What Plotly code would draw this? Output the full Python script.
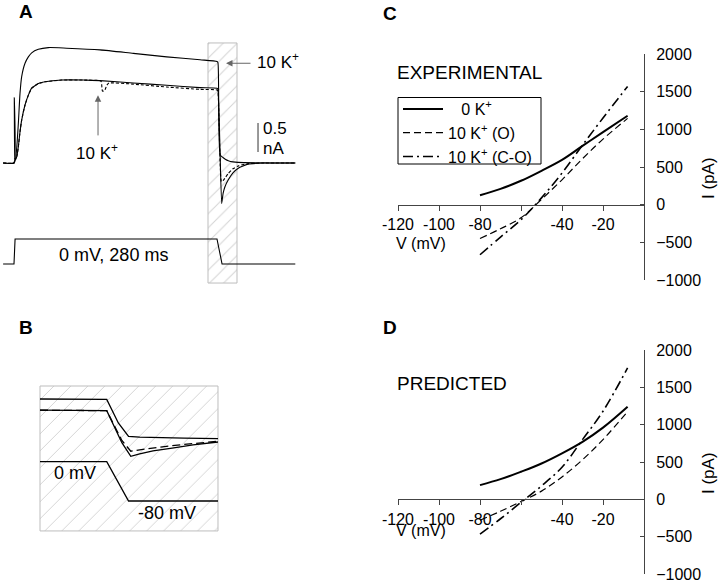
import plotly.graph_objects as go

W, H = 720, 582
FONT = "Liberation Sans, Arial, sans-serif"

# ---------------- Panel A : current traces (time ms, current nA) ----------------
A_TOP_T = [-15, 0, 2.0, 4, 6, 8.3, 10.6, 15.2, 19.8, 24.4, 33.6, 47.4, 72.6, 118.6, 164.6,
           210.6, 256.6, 280, 281.3, 284.5, 288.7, 292, 295.6, 302, 309, 388]
A_TOP_I = [0, 0, 0.06, 0.3, 0.68, 1.20, 1.49, 1.72, 1.83, 1.90, 1.96, 1.99, 1.98, 1.95, 1.89,
           1.83, 1.78, 1.75, 1.73, 0.14, 0.09, 0.06, 0.04, 0.02, 0.01, 0]

A_LOW_T = [-15, 0, 0.4, 1.2, 2.0, 4, 6, 8.3, 10.6, 15.2, 19.8, 24.4, 33.6, 42.8, 65.7, 95.6,
           118.6, 164.6, 210.6, 256.6, 280, 281.3, 286.4, 288.5, 291, 295.6, 302, 309.4, 323, 345, 388]
A_LOW_I = [0, 0, 1.13, 0.08, 0.06, 0.12, 0.28, 0.54, 0.74, 1.0, 1.17, 1.29, 1.37, 1.40, 1.43, 1.43,
           1.42, 1.38, 1.34, 1.30, 1.29, 1.27, -0.70, -0.52, -0.41, -0.29, -0.17, -0.09, -0.02, 0, 0]

A_DASH_T = [-15, 0, 1.2, 2.0, 4, 6, 8.3, 10.6, 15.2, 19.8, 24.4, 33.6, 42.8, 65.7, 95.6, 118.6,
            120.5, 122, 125, 128, 131, 164.6, 210.6, 256.6, 280, 281.3, 286, 288.7, 291, 295.6,
            302, 309.4, 323, 345, 388]
A_DASH_I = [0, 0, 0.08, 0.06, 0.12, 0.28, 0.54, 0.74, 1.0, 1.17, 1.29, 1.37, 1.40, 1.43, 1.43, 1.42,
            1.40, 1.24, 1.25, 1.34, 1.38, 1.36, 1.31, 1.27, 1.26, 1.24, -0.32, -0.30, -0.26, -0.18,
            -0.10, -0.05, -0.01, 0, 0]

# voltage protocol (ms, mV)
A_V_T = [-15, 0, 1.5, 280, 287, 388]
A_V_MV = [-80, -80, 0, 0, -80, -80]

BOX_T = [267.6, 307.6]          # hatched window (ms)
SCALE_NA = 0.5                  # scale bar size (nA)

# ---------------- Panel B : expanded window ----------------
B_TOP_T = [267.6, 282.6, 285.2, 287.5, 290, 295, 300, 307.6]
B_TOP_I = [1.75, 1.73, 0.68, 0.08, 0.05, 0.02, 0.0, -0.02]
B_DASH_T = [267.6, 282.6, 286, 288, 290, 293, 297.3, 302, 307.6]
B_DASH_I = [1.25, 1.23, -0.1, -0.58, -0.52, -0.43, -0.33, -0.24, -0.14]
B_LOW_T = [267.6, 282.6, 286, 288, 290, 293, 297.3, 302, 307.6]
B_LOW_I = [1.25, 1.23, -0.2, -0.81, -0.70, -0.57, -0.44, -0.30, -0.17]
B_V_T = [267.6, 282.6, 287.5, 307.6]
B_V_MV = [0, 0, -80, -80]

# ---------------- Panels C / D : I-V curves ----------------
V_MV = [-80, -70, -60, -50, -40, -30, -20, -8]
C_0K = [125, 210, 317, 450, 594, 780, 964, 1180]
C_10K_O = [-450, -320, -175, 70, 330, 610, 870, 1145]
C_10K_CO = [-665, -430, -200, 90, 420, 790, 1150, 1570]
D_0K = [190, 270, 370, 480, 616, 770, 960, 1240]
D_10K_O = [-280, -160, -30, 110, 300, 530, 800, 1175]
D_10K_CO = [-465, -260, -40, 180, 430, 800, 1180, 1760]

IV_XTICKS = [-120, -100, -80, -60, -40, -20]
IV_XTICKTEXT = ["-120", "-100", "-80", "", "-40", "-20"]
IV_YTICKS = [-1000, -500, 0, 500, 1000, 1500, 2000]
LEGEND_NAMES = ["\u00a0\u00a0 0 K<sup>+</sup>", "10 K<sup>+</sup> (O)", "10 K<sup>+</sup> (C-O)"]


def fx(px):
    return px / W


def fy(py):
    return 1 - py / H


fig = go.Figure()

# ---- Panel A ----
box_y = [-2.07, 2.07]
fig.add_trace(go.Scatter(
    x=[BOX_T[0], BOX_T[1], BOX_T[1], BOX_T[0], BOX_T[0]],
    y=[box_y[0], box_y[0], box_y[1], box_y[1], box_y[0]],
    fill="toself", fillcolor="white", mode="lines",
    line=dict(color="#bdbdbd", width=1),
    fillpattern=dict(shape="/", size=10, solidity=0.1, fgcolor="#a8a8a8", bgcolor="white"),
    xaxis="x", yaxis="y", showlegend=False, hoverinfo="skip"))
fig.add_trace(go.Scatter(x=A_TOP_T, y=A_TOP_I, mode="lines", line=dict(color="black", width=1.1, shape="spline", smoothing=0.6),
                         xaxis="x", yaxis="y", showlegend=False))
fig.add_trace(go.Scatter(x=A_LOW_T, y=A_LOW_I, mode="lines", line=dict(color="black", width=1.1, shape="spline", smoothing=0.4),
                         xaxis="x", yaxis="y", showlegend=False))
fig.add_trace(go.Scatter(x=A_DASH_T, y=A_DASH_I, mode="lines", line=dict(color="black", width=1.1, dash="3px,2px", shape="spline", smoothing=0.4),
                         xaxis="x", yaxis="y", showlegend=False))
fig.add_trace(go.Scatter(x=A_V_T, y=A_V_MV, mode="lines", line=dict(color="black", width=1.1),
                         xaxis="x", yaxis="y2", showlegend=False))
# scale bar
fig.add_trace(go.Scatter(x=[336.6, 336.6], y=[0.19, 0.19 + SCALE_NA], mode="lines",
                         line=dict(color="#777777", width=1.5), xaxis="x", yaxis="y", showlegend=False))

# ---- Panel B ----
bb_y = [-4.14, 2.33]
fig.add_trace(go.Scatter(
    x=[BOX_T[0], BOX_T[1], BOX_T[1], BOX_T[0], BOX_T[0]],
    y=[bb_y[0], bb_y[0], bb_y[1], bb_y[1], bb_y[0]],
    fill="toself", fillcolor="white", mode="lines",
    line=dict(color="#bdbdbd", width=1),
    fillpattern=dict(shape="/", size=12, solidity=0.08, fgcolor="#a8a8a8", bgcolor="white"),
    xaxis="x2", yaxis="y3", showlegend=False, hoverinfo="skip"))
fig.add_trace(go.Scatter(x=B_TOP_T, y=B_TOP_I, mode="lines", line=dict(color="black", width=1.3),
                         xaxis="x2", yaxis="y3", showlegend=False))
fig.add_trace(go.Scatter(x=B_LOW_T, y=B_LOW_I, mode="lines", line=dict(color="black", width=1.3),
                         xaxis="x2", yaxis="y3", showlegend=False))
fig.add_trace(go.Scatter(x=B_DASH_T, y=B_DASH_I, mode="lines", line=dict(color="black", width=1.3, dash="8px,4px"),
                         xaxis="x2", yaxis="y3", showlegend=False))
fig.add_trace(go.Scatter(x=B_V_T, y=B_V_MV, mode="lines", line=dict(color="black", width=1.3),
                         xaxis="x2", yaxis="y4", showlegend=False))

# ---- Panels C and D ----
styles = [dict(color="black", width=2), dict(color="black", width=1.2, dash="7px,4px"),
          dict(color="black", width=1.6, dash="10px,4px,2px,4px")]
for name, data, st in zip(LEGEND_NAMES, [C_0K, C_10K_O, C_10K_CO], styles):
    fig.add_trace(go.Scatter(x=V_MV, y=data, mode="lines", name=name, line=dict(**st, shape="spline"),
                             xaxis="x3", yaxis="y5", showlegend=True))
for data, st in zip([D_0K, D_10K_O, D_10K_CO], styles):
    fig.add_trace(go.Scatter(x=V_MV, y=data, mode="lines", line=dict(**st, shape="spline"),
                             xaxis="x4", yaxis="y6", showlegend=False))

hidden = dict(visible=False, showgrid=False, zeroline=False, fixedrange=True)

ax_common_x = dict(range=[-120, 0], tickvals=IV_XTICKS, ticktext=IV_XTICKTEXT, ticks="outside",
                   ticklen=5, tickcolor="#444", showline=True, linecolor="#444", linewidth=1,
                   showgrid=False, zeroline=False, tickfont=dict(size=16, color="black", family=FONT),
                   domain=[fx(398), fx(644)], anchor="free", ticklabeloverflow="allow")
ax_common_y = dict(range=[-1000, 2000], tickvals=IV_YTICKS, side="right", ticks="inside", ticklen=4,
                   tickcolor="#444", showline=True, linecolor="#444", linewidth=1, showgrid=False,
                   zeroline=False, tickfont=dict(size=16, color="black", family=FONT), ticklabelstandoff=8,
                   ticklabeloverflow="allow")

fig.update_layout(
    width=W, height=H, margin=dict(l=0, r=0, t=0, b=0, pad=0, autoexpand=False),
    paper_bgcolor="white", plot_bgcolor="rgba(0,0,0,0)",
    font=dict(family=FONT, color="black", size=16),
    xaxis=dict(domain=[fx(0), fx(300)], range=[-19.3, 394.5], anchor="y", **hidden),
    yaxis=dict(domain=[fy(290), fy(40)], range=[-2.19, 2.121], anchor="x", **hidden),
    yaxis2=dict(overlaying="y", range=[-163.2, 636.8], anchor="x", **hidden),
    xaxis2=dict(domain=[fx(30), fx(230)], range=[265.35, 310.3], anchor="y3", **hidden),
    yaxis3=dict(domain=[fy(541), fy(376)], range=[-4.589, 2.777], anchor="x2", **hidden),
    yaxis4=dict(overlaying="y3", range=[-161.5, 174.5], anchor="x2", **hidden),
    xaxis3=dict(position=fy(204.7), **ax_common_x),
    yaxis5=dict(domain=[fy(280), fy(54)], anchor="x3", **ax_common_y),
    xaxis4=dict(position=fy(499.3), **ax_common_x),
    yaxis6=dict(domain=[fy(574), fy(350)], anchor="x4", **ax_common_y),
    legend=dict(x=fx(398), y=fy(92), xanchor="left", yanchor="top", bgcolor="rgba(0,0,0,0)",
                borderwidth=0, font=dict(size=16, family=FONT),
                tracegroupgap=0, itemwidth=40),
    showlegend=True,
    shapes=[dict(type="rect", xref="paper", yref="paper", x0=fx(398), x1=fx(541),
                 y0=fy(164), y1=fy(97.5), line=dict(color="black", width=1), layer="above")],
)

ann = []


def txt(text, x, y, size=17, xanchor="left", bold=False, angle=0):
    ann.append(dict(text=("<b>%s</b>" % text) if bold else text, x=fx(x), y=fy(y), xref="paper",
                    yref="paper", xanchor=xanchor, yanchor="middle", showarrow=False,
                    textangle=angle, font=dict(size=size, family=FONT, color="black")))


txt("A", 17, 11, 19, bold=True)
txt("B", 17, 327.5, 19, bold=True)
txt("C", 381, 13, 19, bold=True)
txt("D", 381, 327.5, 19, bold=True)

txt("10 K<sup>+</sup>", 97, 152, 17, xanchor="center")
txt("10 K<sup>+</sup>", 255, 61, 17)
txt("0.5", 261, 128, 17)
txt("nA", 261, 148, 17)
txt("0 mV, 280 ms", 113.5, 255, 18, xanchor="center")

txt("0 mV", 75, 473, 18, xanchor="center")
txt("-80 mV", 167, 513, 18, xanchor="center")

txt("EXPERIMENTAL", 395, 72, 19)
txt("PREDICTED", 395, 383, 19)
txt("V (mV)", 394, 243, 16)
txt("V (mV)", 394, 530, 16)
txt("I (pA)", 708, 178, 17, xanchor="center", angle=-90)
txt("I (pA)", 708, 473, 17, xanchor="center", angle=-90)

# arrows in panel A
ann.append(dict(x=115.9, y=1.17, ax=115.9, ay=0.45, xref="x", yref="y", axref="x", ayref="y",
                text="", showarrow=True, arrowhead=2, arrowsize=1.3, arrowwidth=1, arrowcolor="#666"))
ann.append(dict(x=292.4, y=1.72, ax=328.3, ay=1.72, xref="x", yref="y", axref="x", ayref="y",
                text="", showarrow=True, arrowhead=2, arrowsize=1.3, arrowwidth=1, arrowcolor="#666"))

fig.update_layout(annotations=ann)
fig.write_html("out.html", config={"displayModeBar": False},
               post_script="document.body.style.margin='0';document.body.style.padding='0';")
